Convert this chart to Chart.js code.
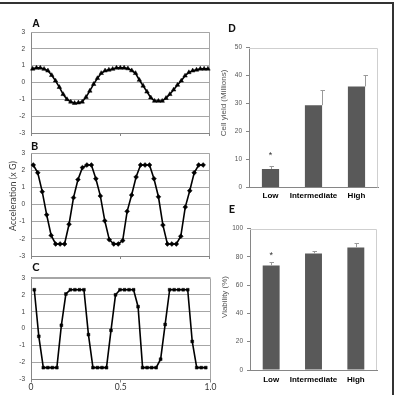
<!DOCTYPE html>
<html><head><meta charset="utf-8">
<script src="https://cdn.jsdelivr.net/npm/chart.js@4"></script>
<style>
html,body{margin:0;padding:0;background:#fff;}
body{width:397px;height:395px;position:relative;overflow:hidden;font-family:"Liberation Sans",Arial,sans-serif;}
canvas{position:absolute;}
.lbl{position:absolute;white-space:nowrap;line-height:1;transform:translate(-50%,-50%);color:#111;font-weight:bold;}
.rot{position:absolute;white-space:nowrap;line-height:1;transform:translate(-50%,-50%) rotate(-90deg);}
</style></head>
<body>
<div style="position:absolute;left:0;top:2px;width:392px;height:400px;border-top:2px solid #333;border-right:2px solid #333;"></div>

<canvas id="cA" width="222" height="127" style="left:0px;top:18px"></canvas>
<canvas id="cB" width="222" height="125" style="left:0px;top:143px"></canvas>
<canvas id="cC" width="222" height="127" style="left:0px;top:268px"></canvas>
<canvas id="cD" width="180" height="170" style="left:215px;top:35px"></canvas>
<canvas id="cE" width="180" height="175" style="left:215px;top:215px"></canvas>

<div class="lbl" style="left:36px;top:23px;font-size:10.5px;">A</div>
<div class="lbl" style="left:34.5px;top:145px;font-size:11px;font-family:Lato,sans-serif;">B</div>
<div class="lbl" style="left:36px;top:266px;font-size:11px;font-family:Lato,sans-serif;">C</div>
<div class="lbl" style="left:232px;top:28px;font-size:10.5px;">D</div>
<div class="lbl" style="left:232px;top:208px;font-size:11px;font-family:Lato,sans-serif;">E</div>

<div class="rot" style="left:12px;top:196px;font-size:9px;color:#404040;font-family:Lato,sans-serif;">Acceleration (x G)</div>
<div class="rot" style="left:224px;top:103px;font-size:8px;color:#555;">Cell yield (Millions)</div>
<div class="rot" style="left:225px;top:297px;font-size:8px;color:#555;">Viability (%)</div>

<script>
// ---- data ----
const panelAValues = [0.81,0.87,0.87,0.8,0.7,0.43,0.1,-0.28,-0.7,-1.0,-1.15,-1.23,-1.2,-1.15,-0.87,-0.5,-0.1,0.25,0.55,0.7,0.75,0.8,0.87,0.87,0.87,0.83,0.71,0.55,0.15,-0.2,-0.55,-0.9,-1.1,-1.1,-1.1,-0.93,-0.7,-0.43,-0.15,0.1,0.4,0.6,0.7,0.75,0.81,0.81,0.81];
const panelBValues = [2.3,1.85,0.75,-0.6,-1.8,-2.3,-2.3,-2.3,-1.15,0.4,1.45,2.15,2.3,2.3,1.5,0.5,-0.95,-2.05,-2.3,-2.3,-2.1,-0.4,0.55,1.6,2.3,2.3,2.3,1.5,0.45,-1.2,-2.3,-2.3,-2.3,-1.85,-0.15,0.8,1.85,2.3,2.3];
const panelCValues = [2.3,-0.45,-2.3,-2.3,-2.3,-2.3,0.2,2.05,2.3,2.3,2.3,2.3,-0.35,-2.3,-2.3,-2.3,-2.3,-0.1,2.0,2.3,2.3,2.3,2.3,1.3,-2.3,-2.3,-2.3,-2.3,-1.8,0.25,2.3,2.3,2.3,2.3,2.3,-0.75,-2.3,-2.3,-2.3];
const timeTickLabels = ['0','0.5','1.0'];
const conditionLabels = ['Low','Intermediate','High'];
const cellYield = [6.6, 29.4, 36.1];
const cellYieldSD = [1.2, 5.3, 3.9];
const cellYieldStar = [12.5, null, null];
const viability = [73.9, 82.3, 86.6];
const viabilitySD = [2.3, 1.7, 2.8];
const viabilityStar = [82.8, null, null];

Chart.defaults.font.family = '"Liberation Sans", Arial, sans-serif';
Chart.defaults.animation = false;

const plotBorder = {
  id: 'plotBorder',
  beforeDatasetsDraw(chart, args, opts) {
    if (!opts.color) return;
    const {ctx, chartArea:{left, top, right, bottom}} = chart;
    ctx.save();
    ctx.strokeStyle = opts.color; ctx.lineWidth = 1;
    const t = Math.round(top) + 0.5, r = Math.round(right) - 0.5;
    ctx.beginPath();
    ctx.moveTo(left, t); ctx.lineTo(r, t); ctx.lineTo(r, bottom);
    ctx.stroke();
    ctx.restore();
  }
};

const errBars = {
  id: 'errBars',
  afterDatasetsDraw(chart, args, opts) {
    if (!opts.sd) return;
    const {ctx} = chart;
    const y = chart.scales.y;
    const meta = chart.getDatasetMeta(0);
    const vals = chart.data.datasets[0].data;
    ctx.save();
    ctx.strokeStyle = opts.color; ctx.lineWidth = 1;
    opts.sd.forEach((sd, i) => {
      const bar = meta.data[i];
      const px = Math.round(bar.x + (opts.shift ? opts.shift[i] : 0) * bar.width) + 0.5;
      const y0 = y.getPixelForValue(vals[i]);
      const y1 = Math.round(y.getPixelForValue(vals[i] + sd)) + 0.5;
      ctx.beginPath();
      ctx.moveTo(px, y0); ctx.lineTo(px, y1);
      ctx.moveTo(px - 2, y1); ctx.lineTo(px + 2.5, y1);
      ctx.stroke();
    });
    ctx.fillStyle = '#333';
    ctx.font = '9px "Liberation Sans", Arial, sans-serif';
    ctx.textAlign = 'center'; ctx.textBaseline = 'alphabetic';
    (opts.star || []).forEach((s, i) => {
      if (s == null) return;
      const bar = meta.data[i];
      ctx.fillText('*', bar.x, y.getPixelForValue(s) + 5.2);
    });
    ctx.restore();
  }
};

function lineChart(id, rect, area, values, xr, pointStyle, radius, showX, xFont) {
  const pts = values.map((v, i) => ({x: i, y: v}));
  return new Chart(document.getElementById(id), {
    type: 'line',
    data: {datasets: [{data: pts, xAxisID: 'x', yAxisID: 'y', borderColor: '#000', borderWidth: 1.6,
      backgroundColor: '#000', pointStyle: pointStyle, pointRadius: radius, pointBackgroundColor: '#000',
      pointBorderColor: '#000', pointBorderWidth: 0.5, tension: 0, clip: false}]},
    plugins: [plotBorder],
    options: {
      responsive: false, animation: false,
      layout: {padding: {left: 0, top: area.t - rect.y, right: rect.x + rect.w - area.r, bottom: 0}},
      plugins: {legend: {display: false}, tooltip: {enabled: false}, plotBorder: {color: '#a6a6a6'}},
      scales: {
        x: {type: 'linear', display: false, min: xr[0], max: xr[1]},
        xt: {type: 'linear', position: 'bottom', min: 0, max: 1,
          ticks: {stepSize: 0.5, display: showX, padding: 0, color: '#333', font: xFont,
            maxRotation: 0, minRotation: 0, callback: (v, i) => timeTickLabels[i]},
          grid: {drawOnChartArea: false, drawTicks: true, tickLength: 3, color: '#868686'},
          border: {color: '#868686'},
          afterFit: s => { s.height = rect.y + rect.h - area.b; }},
        y: {min: -3, max: 3,
          ticks: {stepSize: 1, padding: 6, color: '#404040', font: {size: 6.5}},
          grid: {color: '#a6a6a6', drawTicks: false},
          border: {color: '#868686'},
          afterFit: s => { s.width = area.l - rect.x; }}
      }
    }
  });
}

lineChart('cA', {x:0, y:18, w:222, h:127}, {l:31, t:32, r:209.5, b:133}, panelAValues, [-0.44, 46.41], 'triangle', 2.6, false, {size: 8});
lineChart('cB', {x:0, y:143, w:222, h:125}, {l:31, t:153, r:209.5, b:256}, panelBValues, [-0.51, 39.42], 'rectRot', 2.4, false, {size: 8});
lineChart('cC', {x:0, y:268, w:222, h:127}, {l:31, t:277.5, r:210.5, b:379.5}, panelCValues, [-0.73, 39.05], 'rect', 2.0, true, {size: 8.5, family: 'Lato, sans-serif'});

function barChart(id, rect, area, values, sd, star, yMax, yStep, labelPad, shift) {
  return new Chart(document.getElementById(id), {
    type: 'bar',
    data: {labels: conditionLabels, datasets: [{data: values, backgroundColor: '#595959',
      barPercentage: 0.4, categoryPercentage: 1}]},
    plugins: [plotBorder, errBars],
    options: {
      responsive: false, animation: false,
      layout: {padding: {left: 0, top: area.t - rect.y, right: rect.x + rect.w - area.r, bottom: 0}},
      plugins: {legend: {display: false}, tooltip: {enabled: false},
        plotBorder: {color: '#cfcfcf'},
        errBars: {sd: sd, star: star, color: '#9a9a9a', shift: shift}},
      scales: {
        x: {ticks: {padding: labelPad, color: '#000', font: {size: 8, weight: 'bold'},
            maxRotation: 0, minRotation: 0, autoSkip: false},
          grid: {display: false, drawTicks: false},
          border: {color: '#868686'},
          afterFit: s => { s.height = rect.y + rect.h - area.b; }},
        y: {min: 0, max: yMax,
          ticks: {stepSize: yStep, padding: 4, color: '#555', font: {size: 6.5}},
          grid: {drawOnChartArea: false, drawTicks: true, tickLength: 3, color: '#868686'},
          border: {color: '#868686'},
          afterFit: s => { s.width = area.l - rect.x; }}
      }
    }
  });
}

barChart('cD', {x:215, y:35, w:180, h:170}, {l:249, t:47.5, r:378, b:187.5}, cellYield, cellYieldSD, cellYieldStar, 50, 10, 3.8, [0, 0.5, 0.5]);
barChart('cE', {x:215, y:215, w:180, h:175}, {l:250, t:228.5, r:377, b:370}, viability, viabilitySD, viabilityStar, 100, 20, 4.6, [0, 0, 0]);
</script>
</body></html>
